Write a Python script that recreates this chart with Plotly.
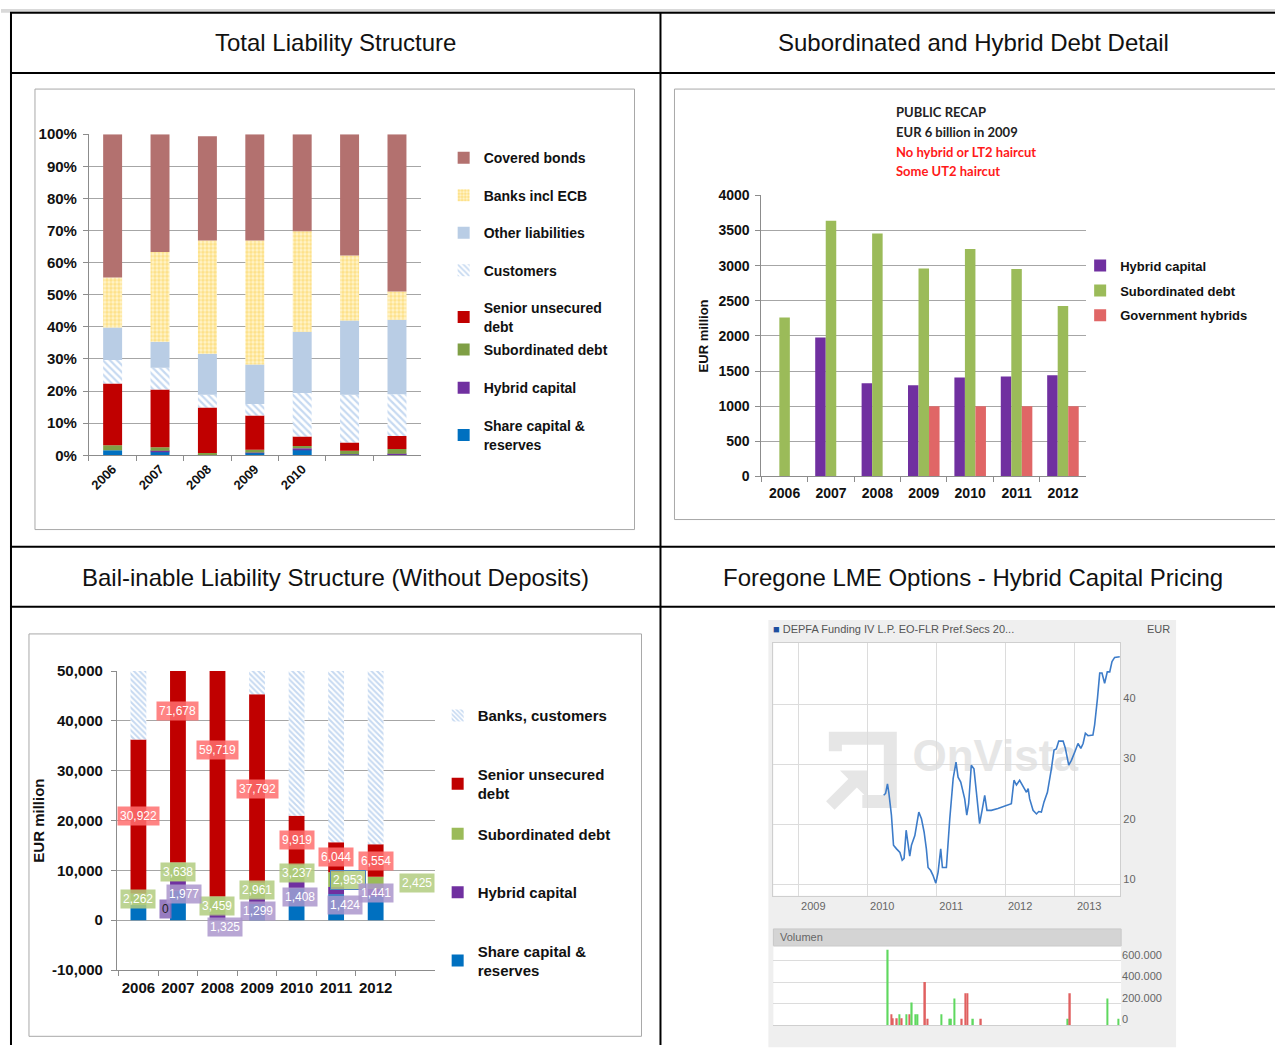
import plotly.graph_objects as go

W, H = 1275, 1053
FONT = "Liberation Sans, Arial, sans-serif"
# the photographed page comes out with an 8px top offset and ~2% vertical squeeze;
# vertical positions below are given in picture pixels and mapped back through these
SCREEN_OFF, SCREEN_SY = 8.2, 0.9805

years = ["2006", "2007", "2008", "2009", "2010", "2011", "2012"]
tl_year_labels = ["2006", "2007", "2008", "2009", "2010", "", ""]

# --- Total liability structure (% of total liabilities)
tl_share = [1.6, 1.2, 0.2, 0.7, 1.7, 0.2, 0.2]
tl_hybrid = [0.0, 0.2, 0.1, 0.2, 0.5, 0.1, 0.3]
tl_sub = [1.5, 1.1, 0.4, 0.8, 0.7, 1.1, 1.5]
tl_senior = [19.3, 18.0, 14.2, 10.7, 3.0, 2.6, 4.0]
tl_customers = [7.3, 6.8, 4.0, 3.6, 13.5, 14.9, 13.0]
tl_other = [10.1, 8.1, 12.7, 12.3, 19.1, 23.1, 23.2]
tl_banks = [15.6, 27.9, 35.3, 38.6, 31.3, 20.2, 8.8]
tl_covered = [44.6, 36.7, 32.5, 33.1, 30.2, 37.8, 49.0]

# --- Subordinated and hybrid debt (EUR million)
hybrid_capital = [0, 1977, 1325, 1299, 1408, 1424, 1441]
subordinated_debt = [2262, 3638, 3459, 2961, 3237, 2953, 2425]
government_hybrids = [None, None, None, 1000, 1000, 1000, 1000]
recap_lines = ["PUBLIC RECAP", "EUR 6 billion in 2009",
               "No hybrid or LT2 haircut", "Some UT2 haircut"]

# --- Bail-inable liability structure (EUR million)
bl_share = [3100, 5950, 0, 3270, 6400, 5240, 4840]
bl_senior = [30922, 71678, 59719, 37792, 9919, 6044, 6554]
bl_banks_customers = [36700, 138000, 165000, 149000, 148000, 81000, 36000]
bl_ticks = [-10000, 0, 10000, 20000, 30000, 40000, 50000]
bl_ticktext = ["-10,000", "0", "10,000", "20,000", "30,000", "40,000", "50,000"]

# --- DEPFA Funding IV hybrid price (EUR) and volume
price_dates = [
    "2010-03-29", "2010-04-08", "2010-04-18", "2010-04-25", "2010-05-09", "2010-05-20",
    "2010-06-05", "2010-06-23", "2010-07-05", "2010-07-15", "2010-07-26", "2010-08-05",
    "2010-08-14", "2010-08-23", "2010-09-10", "2010-10-01", "2010-10-15", "2010-10-29",
    "2010-11-10", "2010-11-19", "2010-12-03", "2010-12-15", "2010-12-30", "2011-01-11",
    "2011-01-25", "2011-02-03", "2011-02-24", "2011-03-14", "2011-04-01", "2011-04-16",
    "2011-04-27", "2011-05-11", "2011-06-01", "2011-06-12", "2011-06-22", "2011-07-06",
    "2011-07-20", "2011-08-02", "2011-08-19", "2011-09-01", "2011-09-15", "2011-09-27",
    "2011-10-20", "2011-11-24", "2012-02-03", "2012-02-17", "2012-03-01", "2012-03-18",
    "2012-04-05", "2012-04-23", "2012-05-02", "2012-05-10", "2012-05-28", "2012-06-15",
    "2012-06-27", "2012-07-11", "2012-07-25", "2012-08-12", "2012-09-02", "2012-09-16",
    "2012-09-28", "2012-10-11", "2012-11-03", "2012-11-15", "2012-12-03", "2012-12-17",
    "2013-01-04", "2013-01-21", "2013-02-05", "2013-02-17", "2013-03-01", "2013-03-15",
    "2013-04-10", "2013-04-19", "2013-05-04", "2013-05-16", "2013-05-28", "2013-06-11",
    "2013-06-25", "2013-07-08", "2013-07-20", "2013-08-03", "2013-08-30",
]
price_values = [
    24.9, 25.2, 26.8, 25.4, 21.6, 16.6, 16.0, 15.4, 14.1, 14.4, 19.1, 16.6,
    14.8, 16.6, 18.2, 22.1, 21.0, 18.8, 16.0, 12.9, 12.4, 11.6, 10.3, 12.1,
    16.0, 12.9, 12.9, 21.0, 27.7, 30.4, 27.9, 27.1, 24.3, 21.6, 23.5, 29.9,
    29.3, 25.4, 20.2, 22.4, 24.9, 22.4, 22.4, 22.7, 23.5, 27.4, 26.6, 27.4,
    26.3, 25.4, 26.0, 24.3, 22.4, 21.8, 22.2, 22.1, 23.8, 25.4, 29.3, 32.4,
    32.6, 33.9, 33.9, 32.7, 29.9, 30.7, 32.1, 33.5, 32.7, 33.5, 35.2, 34.8,
    34.9, 36.6, 41.0, 45.2, 45.2, 43.5, 45.4, 45.4, 47.1, 47.8, 47.9,
]
vol_dates = [
    "2010-04-18", "2010-05-06", "2010-05-15", "2010-06-05", "2010-06-17", "2010-07-01",
    "2010-07-26", "2010-08-11", "2010-08-23", "2010-09-13", "2010-09-22", "2010-11-01",
    "2010-11-15", "2011-01-25", "2011-03-08", "2011-03-18", "2011-04-06", "2011-05-14",
    "2011-06-01", "2011-06-12", "2011-07-12", "2011-08-23", "2012-11-24", "2012-12-05",
    "2013-06-20", "2013-08-18",
]
vol_values = [
    705000, 103000, 65000, 65000, 103000, 65000, 103000, 103000, 212000, 103000,
    103000, 404000, 60000, 103000, 60000, 60000, 249000, 60000, 299000, 299000,
    60000, 60000, 60000, 299000, 249000, 60000,
]
vol_direction = [
    "up", "down", "down", "down", "up", "down", "up", "down", "up", "up",
    "up", "down", "down", "up", "up", "up", "up", "down", "down", "down",
    "up", "down", "up", "down", "up", "up",
]
year_starts = ["2009-01-01", "2010-01-01", "2011-01-01", "2012-01-01", "2013-01-01"]
year_labels = ["2009", "2010", "2011", "2012", "2013"]
vol_ticks = [0, 200000, 400000, 600000]
vol_ticktext = ["0", "200.000", "400.000", "600.000"]


def px(x):
    return x / W


def py(y):
    return 1 - ((y - SCREEN_OFF) / SCREEN_SY) / H


def dx(a, b):
    return [px(a), px(b)]


def dy(top, bottom):
    return [py(bottom), py(top)]


COVERED = "#b3716f"
OTHER = "#b9cde5"
SENIOR = "#c00000"
SUB = "#7f9f45"
SUB_LIGHT = "#9bbb59"
HYBRID = "#7030a0"
SHARE = "#0070c0"
GRID = "#a6a6a6"

fig = go.Figure()

# ---------------- Total liability structure ----------------
hatch = dict(shape="\\", fgcolor="#8eb4e3", bgcolor="#ffffff", size=5, solidity=0.45)
dots = dict(shape=".", fgcolor="#fcce45", bgcolor="#fff4cc", size=4, solidity=0.6)
tl_series = [
    ("Share capital &<br>reserves", tl_share, dict(color=SHARE)),
    ("Hybrid capital", tl_hybrid, dict(color=HYBRID)),
    ("Subordinated debt", tl_sub, dict(color=SUB)),
    ("Senior unsecured<br>debt", tl_senior, dict(color=SENIOR)),
    ("Customers", tl_customers, dict(color="#ffffff", pattern=hatch)),
    ("Other liabilities", tl_other, dict(color=OTHER)),
    ("Banks incl ECB", tl_banks, dict(color="#fff4cc", pattern=dots)),
    ("Covered bonds", tl_covered, dict(color=COVERED)),
]
for i, (name, vals, marker) in enumerate(tl_series):
    fig.add_trace(go.Bar(
        x=years, y=vals, name=name, width=0.4, marker=dict(line_width=0, **marker),
        xaxis="x", yaxis="y", legend="legend" if i >= 3 else "legend4",
        legendgroup=f"tl{i}", legendrank=100 - i,
        hovertemplate="%{x}: %{y:.1f}%<extra>" + name + "</extra>",
    ))

# ---------------- Subordinated and hybrid debt ----------------
tr_series = [
    ("Hybrid capital", hybrid_capital, HYBRID),
    ("Subordinated debt", subordinated_debt, SUB_LIGHT),
    ("Government hybrids", government_hybrids, "#e06666"),
]
for i, (name, vals, color) in enumerate(tr_series):
    fig.add_trace(go.Bar(
        x=years, y=vals, name=name, offsetgroup=str(i + 1),
        marker=dict(color=color, line_width=0),
        xaxis="x2", yaxis="y2", legend="legend2", legendgroup=f"tr{i}",
    ))

# ---------------- Bail-inable liability structure ----------------
bl_series = [
    ("Share capital &<br>reserves", bl_share, dict(color=SHARE)),
    ("Hybrid capital", hybrid_capital, dict(color=HYBRID)),
    ("Subordinated debt", subordinated_debt, dict(color=SUB_LIGHT)),
    ("Senior unsecured<br>debt", bl_senior, dict(color=SENIOR)),
    ("Banks, customers", bl_banks_customers,
     dict(color="#ffffff", pattern=dict(shape="\\", fgcolor="#8eb4e3", bgcolor="#ffffff",
                                         size=4, solidity=0.5))),
]
for i, (name, vals, marker) in enumerate(bl_series):
    fig.add_trace(go.Bar(
        x=years, y=vals, name=name, width=0.4, marker=dict(line_width=0, **marker),
        xaxis="x3", yaxis="y3", legend="legend3" if i >= 3 else "legend5",
        legendgroup=f"bl{i}", legendrank=100 - i,
    ))

# data labels sit at the centre of each segment, nudged like the original
bases_hyb = bl_share
bases_sub = [a + b for a, b in zip(bl_share, hybrid_capital)]
bases_sen = [a + b for a, b in zip(bases_sub, subordinated_debt)]
label_specs = [
    (bl_senior, bases_sen, "rgba(255,110,110,0.85)", "white",
     [(0, 0), (0, -27), (0, -2), (0, 0), (0, 0), (0, 0), (0, 0)]),
    (subordinated_debt, bases_sub, "rgba(178,204,128,0.85)", "white",
     [(0, 0), (0, 0), (0, -1), (0, 0), (0, 0), (12, 0), (41, 0)]),
    (hybrid_capital, bases_hyb, "rgba(172,150,205,0.85)", "white",
     [(27, -4), (6, -8), (8, -10), (1, -10), (3, -12), (9, -14), (0, 0)]),
]
annotations = []
for vals, bases, bg, fg, shifts in label_specs:
    for idx, (v, b, (sx, sy)) in enumerate(zip(vals, bases, shifts)):
        zero = v == 0
        annotations.append(dict(
            x=idx, y=b + v / 2, xref="x3", yref="y3", text=f"{v:,}", showarrow=False,
            xshift=sx, yshift=sy, bgcolor="rgba(140,110,185,0.9)" if zero else bg,
            borderpad=2, font=dict(family=FONT, size=12, color="#222" if zero else fg),
            bordercolor="#4f81bd" if (idx == 5 and bg.startswith("rgba(178")) else "rgba(0,0,0,0)",
            borderwidth=1,
        ))

# ---------------- DEPFA hybrid price & volume ----------------
fig.add_trace(go.Scatter(
    x=price_dates, y=price_values, mode="lines", line=dict(color="#3d7cc9", width=1.6),
    xaxis="x4", yaxis="y4", showlegend=False, name="DEPFA Funding IV",
))
fig.add_trace(go.Bar(
    x=vol_dates, y=vol_values, width=8 * 86400000,
    marker=dict(color=["#5fd85f" if d == "up" else "#e06060" for d in vol_direction], line_width=0),
    xaxis="x5", yaxis="y5", showlegend=False, name="Volumen",
))

# ---------------- table frame & panel boxes ----------------
shapes = [
    dict(type="rect", xref="paper", yref="paper", x0=0, x1=1, y0=py(12), y1=1,
         fillcolor="#d9d9d9", line_width=0, layer="below"),
]
for y in (12, 72, 544, 604):
    shapes.append(dict(type="line", xref="paper", yref="paper", x0=px(9), x1=1,
                       y0=py(y), y1=py(y), line=dict(color="black", width=2)))
for x in (10, 660):
    shapes.append(dict(type="line", xref="paper", yref="paper", x0=px(x), x1=px(x),
                       y0=py(12), y1=0, line=dict(color="black", width=2)))
for x0, y0, x1, y1 in ((34, 88, 634, 527), (674, 88, 1290, 517), (28, 631, 641, 1032)):
    shapes.append(dict(type="rect", xref="paper", yref="paper", x0=px(x0), x1=px(x1),
                       y0=py(y1), y1=py(y0), line=dict(color="#a8a8a8", width=1), layer="below"))
# OnVista chart background
shapes += [
    dict(type="rect", xref="paper", yref="paper", x0=px(768), x1=px(1176), y0=py(1043), y1=py(617),
         fillcolor="#efefef", line_width=0, layer="below"),
    dict(type="rect", xref="paper", yref="paper", x0=px(773), x1=px(1120), y0=py(892), y1=py(640),
         fillcolor="white", line_width=0, layer="below"),
    dict(type="rect", xref="paper", yref="paper", x0=px(773), x1=px(1121), y0=py(1021), y1=py(942),
         fillcolor="white", line_width=0, layer="below"),
    dict(type="rect", xref="paper", yref="paper", x0=px(773), x1=px(1121), y0=py(942), y1=py(925),
         fillcolor="#d4d4d4", line=dict(color="#c8c8c8", width=1), layer="below"),
    dict(type="rect", xref="paper", yref="paper", x0=px(915), x1=px(1075), y0=py(775), y1=py(722),
         line_width=0, fillcolor="rgba(0,0,0,0)", layer="below",
         label=dict(text="<b>OnVista</b>", font=dict(family=FONT, size=44, color="#e6e6e6"))),
    dict(type="path", xref="paper", yref="paper", layer="below",
         path=(f"M{px(835)},{py(748)} L{px(835)},{py(735)} L{px(890)},{py(735)} "
               f"L{px(890)},{py(798)} L{px(862)},{py(798)}"),
         line=dict(color="#e6e6e6", width=13)),
    dict(type="path", xref="paper", yref="paper", layer="below",
         path=f"M{px(830)},{py(802)} L{px(860)},{py(772)}",
         line=dict(color="#e6e6e6", width=12)),
    dict(type="path", xref="paper", yref="paper", layer="below",
         path=f"M{px(842)},{py(768)} L{px(866)},{py(768)} L{px(866)},{py(792)} Z",
         fillcolor="#e6e6e6", line=dict(color="#e6e6e6", width=2)),
]

# ---------------- headers & free texts ----------------
headers = [
    ("Total Liability Structure", 335, 42),
    ("Subordinated and Hybrid Debt Detail", 973, 42),
    ("Bail-inable Liability Structure (Without Deposits)", 335, 575),
    ("Foregone LME Options - Hybrid Capital Pricing", 973, 575),
]
for text, x, y in headers:
    annotations.append(dict(text=text, x=px(x), y=py(y), xref="paper", yref="paper",
                            showarrow=False, xanchor="center", yanchor="middle",
                            font=dict(family=FONT, size=24, color="#111")))
for i, line in enumerate(recap_lines):
    annotations.append(dict(text=f"<b>{line}</b>", x=px(894), y=py(111 + 19.7 * i),
                            xref="paper", yref="paper", showarrow=False,
                            xanchor="left", yanchor="middle",
                            font=dict(family="Lato, Noto Sans, sans-serif", size=13,
                                      color="#222" if i < 2 else "#ff1a1a")))
annotations += [
    dict(text="<span style='color:#1f4f9f'>■</span> DEPFA Funding IV L.P. EO-FLR Pref.Secs 20...",
         x=px(771), y=py(626), xref="paper", yref="paper", showarrow=False,
         xanchor="left", yanchor="middle", font=dict(family=FONT, size=11, color="#555")),
    dict(text="EUR", x=px(1158), y=py(626), xref="paper", yref="paper", showarrow=False,
         xanchor="center", yanchor="middle", font=dict(family=FONT, size=11, color="#555")),
    dict(text="Volumen", x=px(778), y=py(933), xref="paper", yref="paper", showarrow=False,
         xanchor="left", yanchor="middle", font=dict(family=FONT, size=11, color="#666")),
]

bold = lambda s: dict(family=FONT, size=s, color="#111", weight="bold")
cat_axis = dict(type="category", tickson="boundaries", ticks="outside", ticklen=5,
                tickcolor="#8c8c8c", showline=True, linecolor="#8c8c8c", showgrid=False,
                zeroline=False)
val_axis = dict(showgrid=True, gridcolor=GRID, showline=True, linecolor="#8c8c8c",
                ticks="outside", ticklen=5, tickcolor="#8c8c8c", zeroline=False)


def legend_at(x, y, gap, size):
    return dict(x=px(x), y=py(y), xanchor="left", yanchor="top", bgcolor="rgba(0,0,0,0)",
                traceorder="grouped", tracegroupgap=gap, font=bold(size))


fig.update_layout(
    width=W, height=H, autosize=False, margin=dict(l=0, r=0, t=0, b=0),
    paper_bgcolor="white", plot_bgcolor="rgba(0,0,0,0)",
    font=dict(family=FONT, color="#111"),
    barmode="relative", bargap=0.32, bargroupgap=0,
    shapes=shapes, annotations=annotations,
    xaxis=dict(domain=dx(88, 420), anchor="y", tickvals=years, ticktext=tl_year_labels,
               tickangle=-45, tickfont=bold(13), **cat_axis),
    yaxis=dict(domain=dy(133, 453), anchor="x", range=[0, 100], dtick=10, ticksuffix="%",
               tickfont=bold(15), ticklabelstandoff=3, **val_axis),
    xaxis2=dict(domain=dx(761, 1086), anchor="y2", tickangle=0, tickfont=bold(14),
                ticklabelstandoff=4, **cat_axis),
    yaxis2=dict(domain=dy(194, 474), anchor="x2", range=[0, 4000], dtick=500,
                tickfont=bold(14), ticklabelstandoff=3,
                title=dict(text="EUR million", font=bold(13), standoff=6), **val_axis),
    xaxis3=dict(domain=dx(116, 434), anchor="y3", tickangle=0, tickfont=bold(15),
                ticklabelstandoff=4, **cat_axis),
    yaxis3=dict(domain=dy(668, 966), anchor="x3", range=[-10000, 50000], tickvals=bl_ticks,
                ticktext=bl_ticktext, tickfont=bold(15), ticklabelstandoff=5,
                title=dict(text="EUR million", font=bold(15), standoff=3), **val_axis),
    xaxis4=dict(domain=dx(773, 1120), anchor="y4", type="date",
                range=["2008-08-22", "2013-09-01"], tickvals=year_starts, ticktext=year_labels,
                ticklabelshift=15, showgrid=True, gridcolor="#dcdcdc", showline=True,
                mirror=True, linecolor="#cfcfcf", ticks="", zeroline=False,
                tickfont=dict(family=FONT, size=11, color="#666")),
    yaxis4=dict(domain=dy(640, 892), anchor="x4", side="right", range=[8.2, 50.2],
                tickvals=[10, 20, 30, 40], showgrid=True, gridcolor="#dcdcdc", showline=True,
                mirror=True, linecolor="#cfcfcf", ticks="", zeroline=False, ticklabelshift=-6,
                tickfont=dict(family=FONT, size=11, color="#666")),
    xaxis5=dict(domain=dx(773, 1121), anchor="y5", type="date",
                range=["2008-08-22", "2013-09-01"], showticklabels=False, showgrid=False,
                showline=True, mirror=True, linecolor="#cfcfcf", ticks="", zeroline=False),
    yaxis5=dict(domain=dy(942, 1021), anchor="x5", side="right", range=[0, 740000],
                tickvals=vol_ticks, ticktext=vol_ticktext, showgrid=True, gridcolor="#dcdcdc",
                ticks="", zeroline=False, ticklabelshift=-6,
                tickfont=dict(family=FONT, size=11, color="#666")),
    legend=legend_at(443, 141, 16.3, 14),
    legend4=legend_at(443, 332, 17, 14),
    legend2=legend_at(1080, 249, 5, 13),
    legend3=legend_at(437, 696, 36, 15),
    legend5=legend_at(437, 814, 36, 15),
)

fig.write_html(
    "out.html",
    config={"displayModeBar": False},
    post_script=(
        "var de=document.documentElement,b=document.body;"
        "de.style.margin='0';de.style.padding='0';de.style.overflow='hidden';"
        "de.style.height='1053px';b.style.margin='0';b.style.padding='0';"
        "b.style.height='1053px';b.style.overflow='hidden';"
        "var g=document.getElementById('{plot_id}');"
        "g.style.position='fixed';g.style.left='0px';g.style.top='0px';"
    ),
)
